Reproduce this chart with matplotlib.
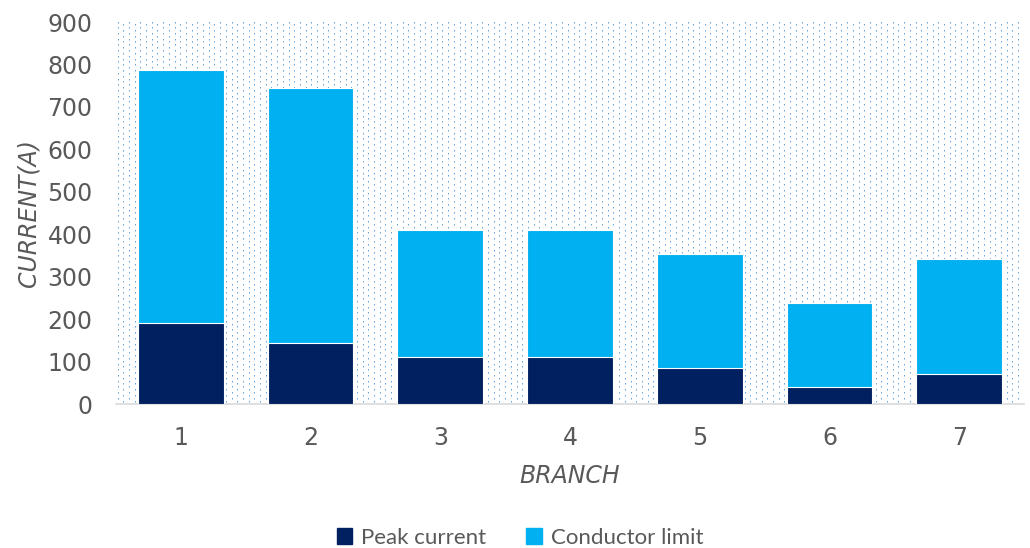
import numpy as np
import matplotlib
matplotlib.use("Agg")
import matplotlib.pyplot as plt
from matplotlib.patches import Patch

branches = ["1", "2", "3", "4", "5", "6", "7"]
peak_current = [191, 144, 111, 111, 85, 40, 71]
conductor_limit = [787, 745, 410, 410, 353, 238, 342]

W, H, DPI = 1030, 548, 100
fig = plt.figure(figsize=(W / DPI, H / DPI), dpi=DPI)
ax_l, ax_r, ax_t, ax_b = 116, 1024, 22, 404
ax = fig.add_axes([ax_l / W, 1 - ax_b / H, (ax_r - ax_l) / W, (ax_b - ax_t) / H])

plt.rcParams["font.family"] = ["Lato", "DejaVu Sans"]
grey = "#595959"

# dotted plot-area fill, built pixel by pixel
pw, ph = ax_r - ax_l, ax_b - ax_t
pattern = np.ones((ph, pw, 4))
pattern[..., 3] = 0.0
dot = np.array([0.40, 0.65, 0.87, 1.0])
dot_soft = np.array([0.68, 0.82, 0.94, 1.0])
for j, x in enumerate(np.arange(2, pw, 5.7)):
    off = 0 if j % 2 == 0 else 2.85
    for y in np.arange(off, ph - 1, 5.7):
        pattern[int(y), int(x)] = dot
        pattern[int(y) + 1, int(x)] = dot_soft
ax.imshow(pattern, extent=(-0.5, 6.5, 0, 900), aspect="auto",
          interpolation="nearest", zorder=0)

x = np.arange(len(branches))
ax.bar(x, conductor_limit, width=0.66, color="#00B0F0", edgecolor="white",
       linewidth=0.8, zorder=2)
ax.bar(x, peak_current, width=0.66, color="#002060", edgecolor="white",
       linewidth=0.8, zorder=3)

ax.set_xlim(-0.5, 6.5)
ax.set_ylim(0, 900)
ax.set_yticks(range(0, 901, 100))
ax.set_xticks(x)
ax.set_xticklabels(branches)
ax.tick_params(axis="both", length=0, labelsize=17, labelcolor=grey)
ax.tick_params(axis="x", pad=16)
ax.tick_params(axis="y", pad=17)
for side in ("top", "right", "left"):
    ax.spines[side].set_visible(False)
ax.spines["bottom"].set_color("#D9D9D9")
ax.spines["bottom"].set_linewidth(1.2)

ax.set_ylabel("CURRENT(A)", fontsize=17, style="italic", color=grey, labelpad=5)
ax.set_xlabel("BRANCH", fontsize=17, style="italic", color=grey, labelpad=10)

handles = [Patch(color="#002060", label="Peak current"),
           Patch(color="#00B0F0", label="Conductor limit")]
fig.legend(handles=handles, loc="center", bbox_to_anchor=(520 / W, 1 - 538 / H),
           ncol=2, frameon=False, fontsize=16, labelcolor=grey,
           handlelength=0.7, handleheight=0.7, handletextpad=0.4, columnspacing=1.8)

fig.savefig("out.png", dpi=DPI)
